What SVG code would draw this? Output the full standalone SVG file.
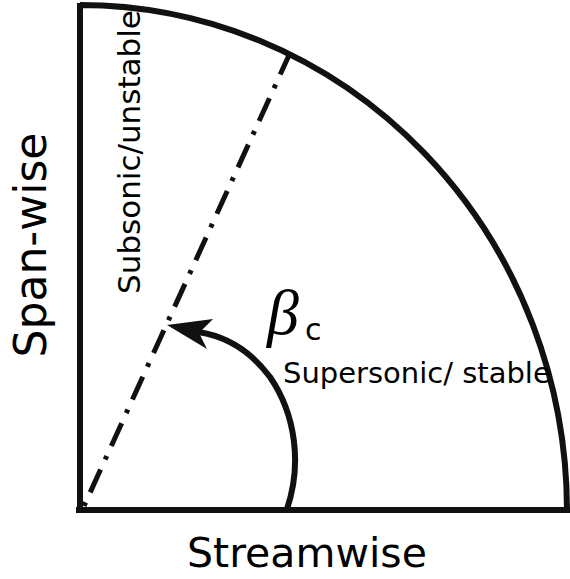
<svg xmlns="http://www.w3.org/2000/svg" width="570" height="579" viewBox="0 0 570 579">
<style>
.ln{fill:none;stroke:#111;stroke-linecap:butt}
.t{font-family:"DejaVu Sans",sans-serif;fill:#000}
</style>
<rect width="570" height="579" fill="#fff"/>
<g id="sector">
<path class="ln" d="M80,510 L80,3 M80,5 A487,506 0 0 1 567,511 M76,510 L572,510" stroke-width="6"/>
</g>
<g id="connectors">
<path id="critical-line" class="ln" d="M84,506 L290,53" stroke-width="5" stroke-dasharray="4 11 25 11"/>
<path id="beta-arrow" class="ln" d="M287,509 C302,465 296,415 270,377 C250,350 225,336 198,332" stroke-width="6"/>
<polygon points="167,325 213,319 199,333 207,349" fill="#111"/>
</g>
<g id="labels">
<text class="t" font-size="44" text-anchor="middle" transform="translate(46,245) rotate(-90)">Span-wise</text>
<text class="t" font-size="41" x="307" y="567" text-anchor="middle">Streamwise</text>
<text class="t" font-size="31" text-anchor="middle" transform="translate(140,152) rotate(-90)">Subsonic/unstable</text>
<text class="t" font-size="29" x="283" y="383">Supersonic/ stable</text>
<text font-family="'Liberation Serif',serif" font-style="italic" font-size="64" x="267" y="334" fill="#000">β</text>
<text class="t" font-size="30" x="305" y="340">c</text>
</g>
</svg>
